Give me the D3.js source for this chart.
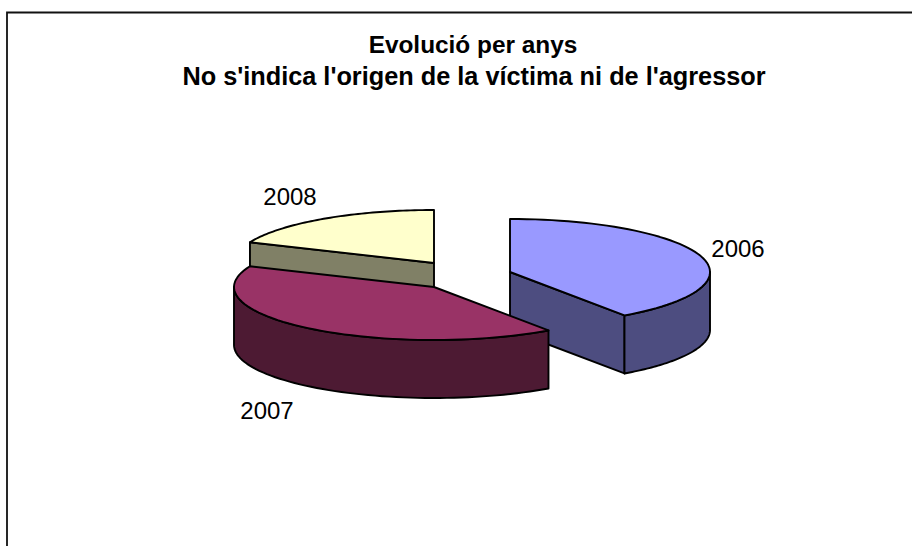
<!DOCTYPE html>
<html><head><meta charset="utf-8">
<style>html,body{margin:0;padding:0;background:#fff}svg{display:block}</style>
<script src="https://cdn.jsdelivr.net/npm/d3@7"></script></head>
<body><svg id="c" width="912" height="546"></svg>
<script>
const titleLines = ["Evolució per anys", "No s'indica l'origen de la víctima ni de l'agressor"];
const years = ["2006", "2007", "2008"];
const shares = [40.3, 41.1, 18.6];
const topColors = ["#9999ff", "#993366", "#ffffcc"];
const sideColors = ["#4d4d80", "#4d1a33", "#808066"];

const svg = d3.select("#c");
const FONT = "'Liberation Sans', Arial, sans-serif";

// Chart frame: only top and left sides fall in the picture region
svg.append("path").attr("d", "M7,546V12.5H912").attr("fill", "none").attr("stroke", "#111").attr("stroke-width", 1.8);

svg.selectAll("text.title").data(titleLines).join("text").attr("class", "title")
  .attr("x", (d, i) => i === 0 ? 473 : 474).attr("y", (d, i) => 53 + i * 32)
  .attr("text-anchor", "middle").attr("font-family", FONT).attr("font-weight", "bold")
  .attr("font-size", (d, i) => i === 0 ? 24.4 : 25.3).attr("fill", "#000").text(d => d);

// Pseudo-3D pie geometry
const rx = 200, ry = 53, depth = 58;
const cx = 463, cy = 276;
const explode = [[47, -4], [-29, 11], [-29, -13]];
const pie = d3.pie().sort(null).value(d => d)(shares);

const pt = (c, t, dz = 0) => [c[0] + rx * Math.sin(t), c[1] - ry * Math.cos(t) + dz];
const arcPts = (c, t0, t1, dz = 0) => d3.range(0, 61).map(i => pt(c, t0 + (t1 - t0) * i / 60, dz));
const line = d3.line();

const order = [2, 0, 1];
const stroke = "#000", sw = 1.9;
order.forEach(i => {
  const a = pie[i], c = [cx + explode[i][0], cy + explode[i][1]];
  const g = svg.append("g");
  const face = (pts, fill) => g.append("path").attr("d", line(pts) + "Z")
    .attr("fill", fill).attr("stroke", stroke).attr("stroke-width", sw).attr("stroke-linejoin", "round");
  const cutWall = t => face([c, pt(c, t), pt(c, t, depth), [c[0], c[1] + depth]], sideColors[i]);
  const lo = Math.max(a.startAngle, Math.PI / 2), hi = Math.min(a.endAngle, 3 * Math.PI / 2);
  if (i === 0) cutWall(a.endAngle);
  if (i === 2) cutWall(a.startAngle);
  if (hi > lo) face([...arcPts(c, lo, hi), ...arcPts(c, hi, lo, depth)], sideColors[i]);
  face([c, ...arcPts(c, a.startAngle, a.endAngle)], topColors[i]);
});

const labelPos = [[738, 257], [267, 419], [290, 205]];
svg.selectAll("text.lab").data(years).join("text").attr("class", "lab")
  .attr("x", (d, i) => labelPos[i][0]).attr("y", (d, i) => labelPos[i][1])
  .attr("text-anchor", "middle").attr("font-family", FONT).attr("font-size", 24)
  .attr("fill", "#000").text(d => d);
</script></body></html>
